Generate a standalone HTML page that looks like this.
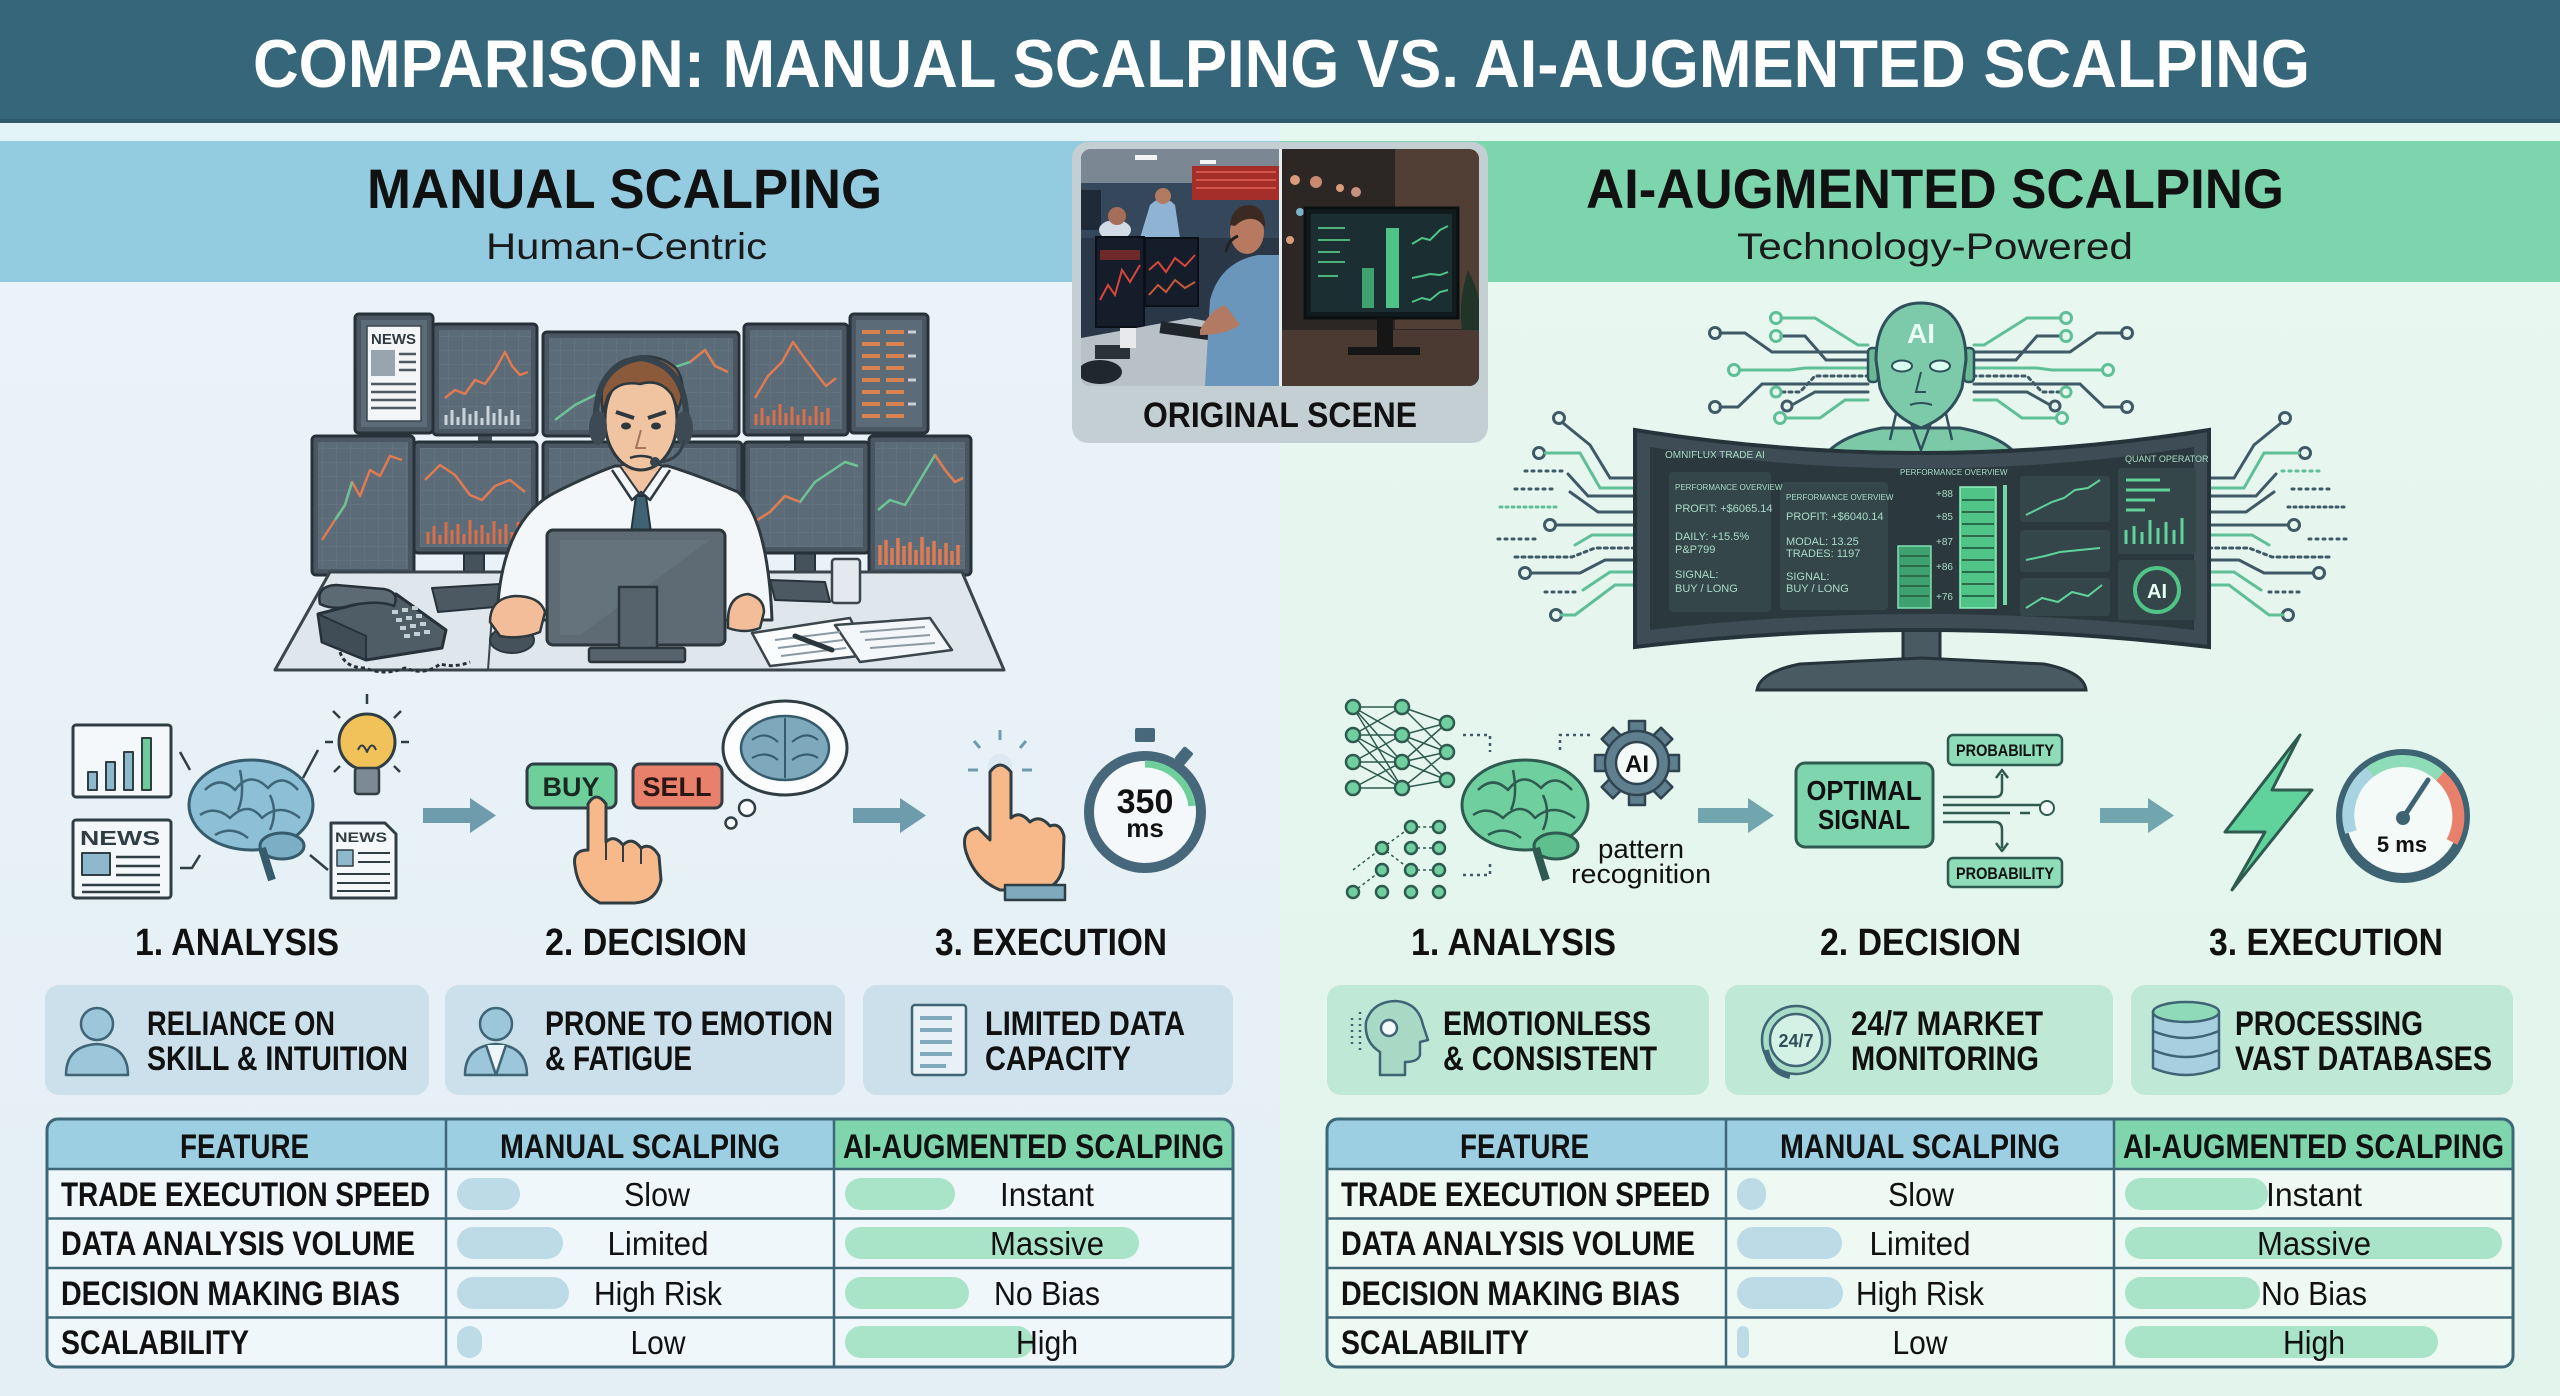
<!DOCTYPE html>
<html><head><meta charset="utf-8"><style>
html,body{margin:0;padding:0;background:#e8f2f7}
body{width:2560px;height:1396px;overflow:hidden}
svg{display:block}
</style></head><body>
<svg width="2560" height="1396" viewBox="0 0 2560 1396" xmlns="http://www.w3.org/2000/svg" font-family="'Liberation Sans', Arial, sans-serif">
<defs>
<linearGradient id="lbg" x1="0" y1="0" x2="0" y2="1"><stop offset="0" stop-color="#ebf4f9"/><stop offset="1" stop-color="#e4eff5"/></linearGradient>
<linearGradient id="rbg" x1="0" y1="0" x2="0" y2="1"><stop offset="0" stop-color="#e9f8f1"/><stop offset="1" stop-color="#e2f4ec"/></linearGradient>
<pattern id="grid" width="14" height="14" patternUnits="userSpaceOnUse"><path d="M14 0H0V14" fill="none" stroke="#71818c" stroke-width="1"/></pattern>
<clipPath id="ph"><rect x="1081" y="149" width="398" height="237" rx="10"/></clipPath>
<clipPath id="tl"><rect x="47" y="1119" width="1186" height="248" rx="11"/></clipPath>
<clipPath id="tr"><rect x="1327" y="1119" width="1186" height="248" rx="11"/></clipPath>
</defs>

<rect x="0" y="0" width="1280" height="1396" fill="url(#lbg)"/>
<rect x="1280" y="0" width="1280" height="1396" fill="url(#rbg)"/>
<rect x="0" y="0" width="2560" height="123" fill="#35667a"/>
<rect x="0" y="119" width="2560" height="4" fill="#2f5a6c"/>
<rect x="0" y="123" width="1280" height="18" fill="#e3f4f9"/>
<rect x="1280" y="123" width="1280" height="18" fill="#e4f8ef"/>
<rect x="0" y="141" width="1280" height="141" fill="#93cce1"/>
<rect x="1280" y="141" width="1280" height="141" fill="#7dd5ae"/>

<text x="253" y="87" font-size="68" font-weight="700" fill="#ffffff" textLength="2057" lengthAdjust="spacingAndGlyphs">COMPARISON: MANUAL SCALPING VS. AI-AUGMENTED SCALPING</text>
<text x="367" y="208" font-size="56" font-weight="700" fill="#111" textLength="515" lengthAdjust="spacingAndGlyphs">MANUAL SCALPING</text>
<text x="486" y="259" font-size="37" fill="#1a1a1a" textLength="281" lengthAdjust="spacingAndGlyphs">Human-Centric</text>
<text x="1586" y="208" font-size="56" font-weight="700" fill="#111" textLength="698" lengthAdjust="spacingAndGlyphs">AI-AUGMENTED SCALPING</text>
<text x="1737" y="259" font-size="37" fill="#1a1a1a" textLength="396" lengthAdjust="spacingAndGlyphs">Technology-Powered</text>

<rect x="1072" y="142" width="416" height="301" rx="16" fill="#c4cfd4"/>
<g clip-path="url(#ph)">
  <rect x="1081" y="149" width="199" height="237" fill="#2a3747"/>
  <rect x="1081" y="149" width="199" height="34" fill="#7b8893"/>
  <rect x="1135" y="155" width="22" height="5" fill="#f2f4f5"/>
  <rect x="1200" y="160" width="16" height="4" fill="#f2f4f5"/>
  <rect x="1081" y="183" width="199" height="55" fill="#34475b"/>
  <rect x="1192" y="166" width="88" height="34" fill="#a52f28"/>
  <path d="M1196 172H1276M1196 180H1276M1196 188H1276" stroke="#d6544a" stroke-width="2"/>
  <rect x="1081" y="190" width="20" height="40" fill="#1e2a38"/>
  <ellipse cx="1115" cy="230" rx="16" ry="10" fill="#d2dce6"/>
  <circle cx="1117" cy="216" r="9" fill="#a56e58"/>
  <path d="M1140 238 L1150 205 Q1163 192 1175 205 L1180 238Z" fill="#8fb3d3"/>
  <circle cx="1163" cy="196" r="8" fill="#b17b62"/>
  <rect x="1096" y="237" width="48" height="90" fill="#151d2a" stroke="#0b1018" stroke-width="2"/>
  <polyline points="1100,300 1108,285 1115,295 1122,270 1130,282 1140,265" fill="none" stroke="#d9463b" stroke-width="2"/>
  <rect x="1100" y="250" width="40" height="10" fill="#6e2a28"/>
  <rect x="1145" y="238" width="53" height="68" fill="#151d2a" stroke="#0b1018" stroke-width="2"/>
  <polyline points="1149,270 1158,262 1166,272 1175,258 1185,266 1195,255" fill="none" stroke="#d9463b" stroke-width="2"/>
  <polyline points="1149,295 1158,285 1166,292 1175,280 1185,288 1195,282" fill="none" stroke="#c85a3a" stroke-width="2"/>
  <polygon points="1081,338 1190,318 1280,335 1280,386 1081,386" fill="#b9c1c8"/>
  <rect x="1095" y="345" width="35" height="14" fill="#2a3138"/>
  <rect x="1120" y="328" width="16" height="20" fill="#e7e9ea"/>
  <ellipse cx="1100" cy="372" rx="22" ry="12" fill="#20272e"/>
  <rect x="1160" y="325" width="55" height="12" fill="#1f252b" transform="rotate(8 1187 331)"/>
  <path d="M1205 386 L1210 300 Q1220 262 1258 255 L1280 255 L1280 386Z" fill="#6a96bb"/>
  <path d="M1200 330 Q1210 310 1225 305 L1240 325 Q1225 335 1200 335Z" fill="#b27a62"/>
  <ellipse cx="1247" cy="232" rx="17" ry="22" fill="#b7795f"/>
  <path d="M1230 225 Q1232 205 1250 205 Q1266 207 1265 228 L1260 222 Q1248 214 1235 226Z" fill="#3a2a22"/>
  <path d="M1226 252 Q1228 240 1238 236" fill="none" stroke="#222" stroke-width="3"/>
  <rect x="1282" y="149" width="197" height="237" fill="#2c2725"/>
  <rect x="1395" y="149" width="84" height="180" fill="#5b463b" opacity="0.8"/>
  <circle cx="1295" cy="180" r="5" fill="#d99b7b"/><circle cx="1316" cy="182" r="6" fill="#c98a70"/>
  <circle cx="1340" cy="188" r="4" fill="#d99b7b"/><circle cx="1356" cy="192" r="5" fill="#c9927a"/>
  <circle cx="1300" cy="212" r="4" fill="#7bb3c8"/><circle cx="1290" cy="240" r="4" fill="#d99b7b"/>
  <rect x="1282" y="330" width="197" height="56" fill="#4a3a31"/>
  <rect x="1305" y="208" width="153" height="110" fill="#111b1d" stroke="#0a0f10" stroke-width="3"/>
  <rect x="1311" y="214" width="141" height="98" fill="#1b2e31"/>
  <path d="M1318 228H1345M1318 240H1350M1318 252H1340M1318 262H1345M1318 276H1338" stroke="#4fb07c" stroke-width="2"/>
  <rect x="1362" y="268" width="12" height="40" fill="#3fa270"/>
  <rect x="1386" y="228" width="13" height="80" fill="#4fc486"/>
  <polyline points="1412,244 1422,238 1430,240 1440,230 1448,226" fill="none" stroke="#4fc486" stroke-width="2"/>
  <polyline points="1412,278 1422,276 1430,274 1440,275 1448,272" fill="none" stroke="#4fc486" stroke-width="2"/>
  <polyline points="1412,302 1422,298 1430,300 1440,292 1448,290" fill="none" stroke="#4fc486" stroke-width="2"/>
  <rect x="1377" y="318" width="16" height="30" fill="#161616"/>
  <rect x="1348" y="347" width="72" height="8" fill="#161616"/>
  <path d="M1462 330 Q1458 300 1468 270 Q1476 285 1479 300 L1479 330Z" fill="#203527"/>
  <rect x="1279" y="149" width="3" height="237" fill="#e8eef0"/>
</g>
<text x="1143" y="427" font-size="35" font-weight="700" fill="#111" textLength="274" lengthAdjust="spacingAndGlyphs">ORIGINAL SCENE</text>

<g stroke-linejoin="round">
  <rect x="388" y="430" width="14" height="12" fill="#45525c"/>
  <rect x="478" y="430" width="14" height="12" fill="#45525c"/>
  <rect x="790" y="430" width="14" height="12" fill="#45525c"/>
  <rect x="882" y="430" width="14" height="12" fill="#45525c"/>
  <g>
    <rect x="355" y="314" width="78" height="119" rx="4" fill="#4a5762" stroke="#26313a" stroke-width="3"/>
    <rect x="361" y="320" width="66" height="107" fill="#5b6b77"/>
    <rect x="367" y="326" width="54" height="95" fill="#f3f5f6" stroke="#3a4650" stroke-width="1.5"/>
    <text x="371" y="344" font-size="15" font-weight="700" fill="#2f3b44">NEWS</text>
    <rect x="371" y="350" width="24" height="26" fill="#98a5ae"/>
    <path d="M399 354H416M399 362H416M399 370H416M371 384H416M371 392H416M371 400H416M371 408H416" stroke="#4f5b64" stroke-width="2.5"/>
  </g>
  <g>
    <rect x="433" y="324" width="104" height="111" rx="4" fill="#4a5762" stroke="#26313a" stroke-width="3"/>
    <rect x="439" y="330" width="92" height="99" fill="#5b6b77"/><rect x="439" y="330" width="92" height="99" fill="url(#grid)" opacity="0.6"/>
    <polyline points="445,398 455,390 465,394 475,380 485,384 495,370 505,352 512,366 520,375 528,372" fill="none" stroke="#e07a52" stroke-width="2.5"/>
    <path d="M446 425V415M452 425V410M458 425V417M464 425V408M470 425V414M476 425V411M482 425V418M488 425V406M494 425V413M500 425V409M506 425V416M512 425V410M518 425V415" stroke="#c9d3d9" stroke-width="3"/>
  </g>
  <g>
    <rect x="543" y="332" width="196" height="104" rx="4" fill="#4a5762" stroke="#26313a" stroke-width="3"/>
    <rect x="549" y="338" width="184" height="92" fill="#5b6b77"/><rect x="549" y="338" width="184" height="92" fill="url(#grid)" opacity="0.6"/>
    <polyline points="555,420 575,405 595,395 615,400 640,382 660,372 690,362 705,350 715,366 728,372" fill="none" stroke="#6cc496" stroke-width="2.5"/>
    <polyline points="690,362 705,350 715,366 728,372" fill="none" stroke="#e07a52" stroke-width="2.5"/>
  </g>
  <g>
    <rect x="744" y="324" width="104" height="111" rx="4" fill="#4a5762" stroke="#26313a" stroke-width="3"/>
    <rect x="750" y="330" width="92" height="99" fill="#5b6b77"/><rect x="750" y="330" width="92" height="99" fill="url(#grid)" opacity="0.6"/>
    <polyline points="755,398 768,376 782,362 793,342 803,356 815,372 826,386 836,378" fill="none" stroke="#e07a52" stroke-width="2.5"/>
    <path d="M756 425V414M762 425V408M768 425V416M774 425V410M780 425V404M786 425V413M792 425V407M798 425V415M804 425V409M810 425V416M816 425V406M822 425V412M828 425V408" stroke="#d86f4a" stroke-width="3"/>
  </g>
  <g>
    <rect x="850" y="314" width="78" height="119" rx="4" fill="#4a5762" stroke="#26313a" stroke-width="3"/>
    <rect x="856" y="320" width="66" height="107" fill="#5b6b77"/>
    <path d="M862 332H880M886 332H904M862 344H880M886 344H904M862 356H880M886 356H904M862 368H880M886 368H904M862 380H880M886 380H904M862 392H880M886 392H904M862 404H880M886 404H904M862 416H880M886 416H904" stroke="#d9824f" stroke-width="4"/>
    <path d="M908 332H916M908 356H916M908 380H916M908 404H916" stroke="#c5cdd2" stroke-width="3"/>
  </g>
  <g>
    <rect x="543" y="442" width="199" height="118" rx="4" fill="#4a5762" stroke="#26313a" stroke-width="3"/>
    <rect x="549" y="448" width="187" height="106" fill="#5b6b77"/><rect x="549" y="448" width="187" height="106" fill="url(#grid)" opacity="0.6"/>
  </g>
  <g>
    <rect x="352" y="573" width="22" height="27" fill="#45525c" stroke="#26313a" stroke-width="2"/>
    <rect x="332" y="597" width="64" height="9" rx="3" fill="#45525c" stroke="#26313a" stroke-width="2"/>
    <rect x="312" y="436" width="102" height="139" rx="4" fill="#4a5762" stroke="#26313a" stroke-width="3"/>
    <rect x="318" y="442" width="90" height="127" fill="#5b6b77"/><rect x="318" y="442" width="90" height="127" fill="url(#grid)" opacity="0.6"/>
    <polyline points="322,540 335,520 345,505 352,482 360,496 370,470 380,476 390,456 402,460" fill="none" stroke="#e07a52" stroke-width="2.5"/>
    <polyline points="335,520 345,505 352,482" fill="none" stroke="#6cc496" stroke-width="2.5"/>
  </g>
  <g>
    <rect x="464" y="550" width="20" height="38" fill="#45525c" stroke="#26313a" stroke-width="2"/>
    <rect x="438" y="584" width="74" height="9" rx="3" fill="#45525c" stroke="#26313a" stroke-width="2"/>
    <rect x="414" y="442" width="123" height="111" rx="4" fill="#4a5762" stroke="#26313a" stroke-width="3"/>
    <rect x="420" y="448" width="111" height="99" fill="#5b6b77"/><rect x="420" y="448" width="111" height="99" fill="url(#grid)" opacity="0.6"/>
    <polyline points="425,480 440,465 455,475 470,495 482,500 495,486 510,480 525,492" fill="none" stroke="#e07a52" stroke-width="2.5"/>
    <path d="M428 544V532M434 544V526M440 544V535M446 544V522M452 544V530M458 544V524M464 544V534M470 544V520M476 544V530M482 544V525M488 544V533M494 544V521M500 544V529M506 544V524M512 544V532M518 544V522M524 544V530" stroke="#d86f4a" stroke-width="3"/>
  </g>
  <g>
    <rect x="795" y="550" width="20" height="33" fill="#45525c" stroke="#26313a" stroke-width="2"/>
    <rect x="768" y="580" width="74" height="9" rx="3" fill="#45525c" stroke="#26313a" stroke-width="2"/>
    <rect x="744" y="442" width="125" height="111" rx="4" fill="#4a5762" stroke="#26313a" stroke-width="3"/>
    <rect x="750" y="448" width="113" height="99" fill="#5b6b77"/><rect x="750" y="448" width="113" height="99" fill="url(#grid)" opacity="0.6"/>
    <polyline points="754,522 770,512 785,496 800,502 815,482 830,472 845,462 858,466" fill="none" stroke="#6cc496" stroke-width="2.5"/>
    <polyline points="754,522 770,512 785,496 800,502" fill="none" stroke="#e07a52" stroke-width="2.5"/>
  </g>
  <g>
    <rect x="908" y="573" width="22" height="27" fill="#45525c" stroke="#26313a" stroke-width="2"/>
    <rect x="885" y="597" width="70" height="9" rx="3" fill="#45525c" stroke="#26313a" stroke-width="2"/>
    <rect x="869" y="436" width="102" height="139" rx="4" fill="#4a5762" stroke="#26313a" stroke-width="3"/>
    <rect x="875" y="442" width="90" height="127" fill="#5b6b77"/><rect x="875" y="442" width="90" height="127" fill="url(#grid)" opacity="0.6"/>
    <polyline points="878,510 890,500 905,505 920,480 935,455 945,470 955,482 963,478" fill="none" stroke="#6cc496" stroke-width="2.5"/>
    <polyline points="935,455 945,470 955,482 963,478" fill="none" stroke="#e07a52" stroke-width="2.5"/>
    <path d="M880 565V545M886 565V540M892 565V548M898 565V538M904 565V546M910 565V542M916 565V550M922 565V537M928 565V547M934 565V541M940 565V549M946 565V543M952 565V551M958 565V545" stroke="#e07a52" stroke-width="3.5"/>
  </g>
  <polygon points="330,572 962,572 1004,670 275,670" fill="#dfe7ec" stroke="#3a454c" stroke-width="3"/>
  <line x1="492" y1="615" x2="488" y2="670" stroke="#3a454c" stroke-width="2"/>
  <polygon points="432,588 500,584 506,606 438,612" fill="#4c5963" stroke="#26313a" stroke-width="2"/>
  <polygon points="770,580 825,582 830,602 775,600" fill="#4c5963" stroke="#26313a" stroke-width="2"/>
  <rect x="832" y="559" width="28" height="44" rx="3" fill="#e3e9ec" stroke="#3a454c" stroke-width="2.5"/>
  <path d="M497 620 Q500 520 556 492 Q590 475 615 466 L668 466 Q700 476 738 492 Q768 520 772 620Z" fill="#f4f7f9" stroke="#2d383f" stroke-width="3"/>
  <path d="M620 466 L641 496 L662 466" fill="#f1c4a1" stroke="#2d383f" stroke-width="2"/>
  <path d="M612 470 L632 500 L641 492 L650 500 L670 470" fill="none" stroke="#2d383f" stroke-width="2.5"/>
  <polygon points="636,496 646,496 652,540 640,545 630,540" fill="#3f6374" stroke="#25343c" stroke-width="2"/>
  <rect x="624" y="445" width="34" height="26" fill="#eab893"/>
  <ellipse cx="641" cy="420" rx="36" ry="50" fill="#f1c4a1" stroke="#2d383f" stroke-width="3"/>
  <path d="M603 412 Q596 372 625 360 Q655 350 676 368 Q688 385 678 410 L672 395 Q660 378 640 384 Q618 380 608 396Z" fill="#8a5a3a" stroke="#2d383f" stroke-width="2.5"/>
  <path d="M596 430 Q592 365 641 358 Q690 365 686 430" fill="none" stroke="#36434c" stroke-width="6"/>
  <ellipse cx="598" cy="428" rx="9" ry="17" fill="#3d4a53"/>
  <ellipse cx="684" cy="428" rx="9" ry="17" fill="#3d4a53"/>
  <path d="M684 440 Q680 462 656 462" fill="none" stroke="#36434c" stroke-width="3"/>
  <circle cx="655" cy="462" r="5" fill="#36434c"/>
  <path d="M616 412 L634 418 M648 418 L666 412" stroke="#2d383f" stroke-width="4"/>
  <ellipse cx="626" cy="426" rx="5" ry="3.5" fill="#2d383f"/><ellipse cx="656" cy="426" rx="5" ry="3.5" fill="#2d383f"/>
  <path d="M641 430 L636 448 L646 448" fill="none" stroke="#a5725a" stroke-width="2"/>
  <path d="M630 458 Q641 454 652 458" fill="none" stroke="#2d383f" stroke-width="2.5"/>
  <rect x="547" y="530" width="178" height="115" rx="6" fill="#5e6b75" stroke="#2b353c" stroke-width="3"/>
  <path d="M560 540 L710 540 L580 635 L560 635Z" fill="#6b7882" opacity="0.6"/>
  <rect x="619" y="587" width="38" height="66" fill="#56636c" stroke="#2b353c" stroke-width="2.5"/>
  <rect x="589" y="648" width="96" height="14" rx="2" fill="#56636c" stroke="#2b353c" stroke-width="2.5"/>
  <ellipse cx="512" cy="640" rx="22" ry="13" fill="#46525b" stroke="#2b353c" stroke-width="2"/>
  <path d="M490 622 Q490 598 515 596 Q540 596 545 612 L540 632 Q520 640 500 636Z" fill="#f2bd98" stroke="#2d383f" stroke-width="2.5"/>
  <path d="M728 620 Q728 596 748 594 Q764 598 764 612 L760 628 Q745 634 728 628Z" fill="#f2bd98" stroke="#2d383f" stroke-width="2.5"/>
  <!-- phone -->
  <path d="M318 614 L396 594 L446 630 L442 648 L366 660 L322 642Z" fill="#4f5d67" stroke="#26313a" stroke-width="3"/>
  <path d="M318 614 L322 642 L366 660 L366 636Z" fill="#414d56" stroke="#26313a" stroke-width="2"/>
  <path d="M320 604 Q316 586 336 585 L384 589 Q400 592 394 606 Q380 600 352 605 Q334 611 320 604Z" fill="#5c6a74" stroke="#26313a" stroke-width="2.5"/>
  <g fill="#c5d0d6">
    <rect x="392" y="610" width="6" height="4"/><rect x="402" y="608" width="6" height="4"/><rect x="412" y="606" width="6" height="4"/>
    <rect x="396" y="618" width="6" height="4"/><rect x="406" y="616" width="6" height="4"/><rect x="416" y="614" width="6" height="4"/>
    <rect x="400" y="626" width="6" height="4"/><rect x="410" y="624" width="6" height="4"/><rect x="420" y="622" width="6" height="4"/>
    <rect x="404" y="634" width="6" height="4"/><rect x="414" y="632" width="6" height="4"/><rect x="424" y="630" width="6" height="4"/>
  </g>
  <path d="M340 652 Q345 668 365 668 Q385 676 405 668 Q425 676 440 664 Q455 668 470 662" fill="none" stroke="#26313a" stroke-width="3" stroke-dasharray="4 3"/>
  <polygon points="752,633 850,618 868,655 770,666" fill="#fbfcfd" stroke="#3a454c" stroke-width="2.5"/>
  <polygon points="835,625 930,618 952,650 860,662" fill="#f4f7f9" stroke="#3a454c" stroke-width="2.5"/>
  <path d="M775 640L840 632M778 648L843 640M781 656L846 648M860 632L925 627M865 640L930 635M870 648L935 643" stroke="#8a99a3" stroke-width="2"/>
  <line x1="795" y1="636" x2="832" y2="650" stroke="#2b353c" stroke-width="5" stroke-linecap="round"/>
</g>

<g fill="none" stroke-width="3" stroke-linecap="round">
  <g>
    <path d="M1781 318H1815L1858 345H1868" stroke="#5fbf97"/>
    <circle cx="1776" cy="318" r="5.5" stroke="#5fbf97"/>
    <path d="M1720 333H1745L1772 352H1868" stroke="#3f5a66"/>
    <circle cx="1715" cy="333" r="5.5" stroke="#3f5a66"/>
    <path d="M1781 336H1805L1826 360H1868" stroke="#3f5a66"/>
    <circle cx="1776" cy="336" r="5.5" stroke="#5fbf97"/>
    <path d="M1740 370H1790L1805 368H1868" stroke="#5fbf97"/>
    <circle cx="1734" cy="370" r="5.5" stroke="#5fbf97"/>
    <path d="M1782 392H1800L1815 376H1868" stroke="#3f5a66" stroke-dasharray="3 4"/>
    <circle cx="1776" cy="392" r="5" stroke="#5fbf97"/>
    <path d="M1720 407H1738L1762 384H1868" stroke="#3f5a66"/>
    <circle cx="1715" cy="407" r="5.5" stroke="#3f5a66"/>
    <path d="M1792 405L1815 392H1868" stroke="#3f5a66"/>
    <circle cx="1787" cy="406" r="5" stroke="#3f5a66"/>
    <path d="M1786 418H1820L1845 400H1868" stroke="#5fbf97"/>
    <circle cx="1780" cy="418" r="5.5" stroke="#5fbf97"/>
  </g>
  <g transform="translate(3842,0) scale(-1,1)">
    <path d="M1781 318H1815L1858 345H1868" stroke="#5fbf97"/>
    <circle cx="1776" cy="318" r="5.5" stroke="#5fbf97"/>
    <path d="M1720 333H1745L1772 352H1868" stroke="#3f5a66"/>
    <circle cx="1715" cy="333" r="5.5" stroke="#3f5a66"/>
    <path d="M1781 336H1805L1826 360H1868" stroke="#3f5a66"/>
    <circle cx="1776" cy="336" r="5.5" stroke="#5fbf97"/>
    <path d="M1740 370H1790L1805 368H1868" stroke="#5fbf97"/>
    <circle cx="1734" cy="370" r="5.5" stroke="#5fbf97"/>
    <path d="M1782 392H1800L1815 376H1868" stroke="#3f5a66" stroke-dasharray="3 4"/>
    <circle cx="1776" cy="392" r="5" stroke="#5fbf97"/>
    <path d="M1720 407H1738L1762 384H1868" stroke="#3f5a66"/>
    <circle cx="1715" cy="407" r="5.5" stroke="#3f5a66"/>
    <path d="M1792 405L1815 392H1868" stroke="#3f5a66"/>
    <circle cx="1787" cy="406" r="5" stroke="#3f5a66"/>
    <path d="M1786 418H1820L1845 400H1868" stroke="#5fbf97"/>
    <circle cx="1780" cy="418" r="5.5" stroke="#5fbf97"/>
  </g>
  <g>
    <circle cx="1559" cy="418" r="5.5" stroke="#3f5a66"/>
    <path d="M1563 423L1590 445L1610 478H1636" stroke="#3f5a66"/>
    <circle cx="1539" cy="453" r="5.5" stroke="#3f5a66"/>
    <path d="M1545 453H1580L1600 488H1636" stroke="#5fbf97"/>
    <path d="M1525 471H1565" stroke="#3f5a66" stroke-dasharray="2 5"/>
    <path d="M1568 474L1588 496H1636" stroke="#3f5a66"/>
    <path d="M1515 489H1555" stroke="#3f5a66" stroke-dasharray="2 5"/>
    <path d="M1570 492L1598 512H1636" stroke="#3f5a66"/>
    <path d="M1500 507H1560" stroke="#5fbf97" stroke-dasharray="2 4"/>
    <circle cx="1550" cy="525" r="5.5" stroke="#3f5a66"/>
    <path d="M1556 525H1636" stroke="#3f5a66"/>
    <path d="M1498 539H1540" stroke="#3f5a66" stroke-dasharray="2 5"/>
    <path d="M1575 545L1592 535H1636" stroke="#5fbf97"/>
    <path d="M1515 557H1572L1595 548H1636" stroke="#3f5a66" stroke-dasharray="3 4"/>
    <circle cx="1525" cy="573" r="5.5" stroke="#3f5a66"/>
    <path d="M1531 573H1580L1605 560H1636" stroke="#3f5a66"/>
    <path d="M1545 592H1580" stroke="#3f5a66" stroke-dasharray="2 5"/>
    <path d="M1583 590L1610 572H1636" stroke="#5fbf97"/>
    <circle cx="1556" cy="615" r="5.5" stroke="#3f5a66"/>
    <path d="M1561 615H1575L1615 585H1636" stroke="#5fbf97"/>
  </g>
  <g transform="translate(3844,0) scale(-1,1)">
    <circle cx="1559" cy="418" r="5.5" stroke="#3f5a66"/>
    <path d="M1563 423L1590 445L1610 478H1636" stroke="#3f5a66"/>
    <circle cx="1539" cy="453" r="5.5" stroke="#3f5a66"/>
    <path d="M1545 453H1580L1600 488H1636" stroke="#5fbf97"/>
    <path d="M1525 471H1565" stroke="#5fbf97" stroke-dasharray="2 5"/>
    <path d="M1568 474L1588 496H1636" stroke="#3f5a66"/>
    <path d="M1515 489H1555" stroke="#3f5a66" stroke-dasharray="2 5"/>
    <path d="M1570 492L1598 512H1636" stroke="#3f5a66"/>
    <path d="M1500 507H1560" stroke="#3f5a66" stroke-dasharray="2 4"/>
    <circle cx="1550" cy="525" r="5.5" stroke="#3f5a66"/>
    <path d="M1556 525H1636" stroke="#3f5a66"/>
    <path d="M1498 539H1540" stroke="#3f5a66" stroke-dasharray="2 5"/>
    <path d="M1575 545L1592 535H1636" stroke="#5fbf97"/>
    <path d="M1515 557H1572L1595 548H1636" stroke="#3f5a66" stroke-dasharray="3 4"/>
    <circle cx="1525" cy="573" r="5.5" stroke="#3f5a66"/>
    <path d="M1531 573H1580L1605 560H1636" stroke="#3f5a66"/>
    <path d="M1545 592H1580" stroke="#3f5a66" stroke-dasharray="2 5"/>
    <path d="M1583 590L1610 572H1636" stroke="#5fbf97"/>
    <circle cx="1556" cy="615" r="5.5" stroke="#3f5a66"/>
    <path d="M1561 615H1575L1615 585H1636" stroke="#5fbf97"/>
  </g>
</g>
<path d="M1823 458 Q1838 436 1882 428 L1960 428 Q2004 436 2019 458Z" fill="#7cc9a8" stroke="#2f4f5a" stroke-width="3"/>
<path d="M1898 405 L1890 440 M1944 405 L1952 440 M1910 420 L1921 450 L1932 420" fill="none" stroke="#2f4f5a" stroke-width="2.5"/>
<rect x="1868" y="348" width="10" height="34" rx="4" fill="#6ab896" stroke="#2f4f5a" stroke-width="2.5"/>
<rect x="1964" y="348" width="10" height="34" rx="4" fill="#6ab896" stroke="#2f4f5a" stroke-width="2.5"/>
<path d="M1921 303 C1950 303 1966 325 1966 360 L1962 388 Q1952 416 1921 428 Q1890 416 1880 388 L1876 360 C1876 325 1892 303 1921 303Z" fill="#7ccaa9" stroke="#2f4f5a" stroke-width="3"/>
<text x="1921" y="343" font-size="28" font-weight="700" fill="#eafff6" text-anchor="middle">AI</text>
<ellipse cx="1902" cy="366" rx="10" ry="5.5" fill="#d8fff0" stroke="#2f4f5a" stroke-width="2"/>
<ellipse cx="1940" cy="366" rx="10" ry="5.5" fill="#d8fff0" stroke="#2f4f5a" stroke-width="2"/>
<path d="M1921 372 L1916 392 L1926 392 M1910 405 Q1921 401 1932 405" fill="none" stroke="#2f4f5a" stroke-width="2"/>
<rect x="1903" y="625" width="37" height="37" fill="#4a5a62" stroke="#26333a" stroke-width="3"/>
<path d="M1757 690 Q1760 672 1800 664 L1922 658 L2044 664 Q2084 672 2086 690Z" fill="#4a5a62" stroke="#26333a" stroke-width="3"/>
<path d="M1635 430 Q1922 476 2209 430 L2209 647 Q1922 613 1635 647Z" fill="#3e4d55" stroke="#26333a" stroke-width="4"/>
<path d="M1650 447 Q1922 490 2194 447 L2194 630 Q1922 598 1650 630Z" fill="#2b393f"/>
<g font-size="11" fill="#a9dcc4">
  <rect x="1669" y="472" width="102" height="140" rx="4" fill="#34464a"/>
  <rect x="1780" y="482" width="108" height="128" rx="4" fill="#34464a"/>
  <rect x="2020" y="476" width="90" height="46" rx="3" fill="#34464a"/>
  <rect x="2020" y="530" width="90" height="42" rx="3" fill="#34464a"/>
  <rect x="2020" y="578" width="90" height="38" rx="3" fill="#34464a"/>
  <rect x="2118" y="468" width="78" height="86" rx="3" fill="#34464a"/>
  <rect x="2118" y="560" width="78" height="60" rx="3" fill="#34464a"/>
  <text x="1665" y="458" font-size="10">OMNIFLUX TRADE AI</text>
  <text x="2125" y="462" font-size="9">QUANT OPERATOR</text>
  <text x="1675" y="490" font-size="8">PERFORMANCE OVERVIEW</text>
  <text x="1675" y="512" font-size="11">PROFIT: +$6065.14</text>
  <text x="1675" y="540" font-size="11">DAILY: +15.5%</text>
  <text x="1675" y="553" font-size="11">P&amp;P799</text>
  <text x="1675" y="578" font-size="11">SIGNAL:</text>
  <text x="1675" y="592" font-size="11">BUY / LONG</text>
  <text x="1786" y="500" font-size="8">PERFORMANCE OVERVIEW</text>
  <text x="1786" y="520" font-size="11">PROFIT: +$6040.14</text>
  <text x="1786" y="545" font-size="11">MODAL: 13.25</text>
  <text x="1786" y="557" font-size="11">TRADES: 1197</text>
  <text x="1786" y="580" font-size="11">SIGNAL:</text>
  <text x="1786" y="592" font-size="11">BUY / LONG</text>
  <text x="1900" y="475" font-size="8">PERFORMANCE OVERVIEW</text>
  <text x="1936" y="497" font-size="10">+88</text><text x="1936" y="520" font-size="10">+85</text><text x="1936" y="545" font-size="10">+87</text><text x="1936" y="570" font-size="10">+86</text><text x="1936" y="600" font-size="10">+76</text>
</g>
<rect x="1898" y="546" width="33" height="62" fill="#3fa070" stroke="#7fe0b0" stroke-width="1.5"/>
<rect x="1960" y="487" width="36" height="121" fill="#4fc486" stroke="#8ff0c0" stroke-width="1.5"/>
<path d="M1900 556H1929M1900 566H1929M1900 576H1929M1900 586H1929M1900 596H1929M1962 500H1994M1962 512H1994M1962 524H1994M1962 536H1994M1962 548H1994M1962 560H1994M1962 572H1994M1962 584H1994M1962 596H1994" stroke="#2b6b4a" stroke-width="2"/>
<rect x="2003" y="485" width="4" height="120" fill="#6fd6a4"/>
<polyline points="2026,515 2040,508 2052,502 2064,498 2075,490 2088,488 2100,480" fill="none" stroke="#5fd39b" stroke-width="2"/>
<polyline points="2026,560 2045,556 2060,552 2080,550 2100,548" fill="none" stroke="#5fd39b" stroke-width="2"/>
<polyline points="2026,608 2042,598 2058,602 2072,592 2088,596 2102,585" fill="none" stroke="#5fd39b" stroke-width="2"/>
<path d="M2126 480H2160M2126 490H2170M2126 500H2155M2126 510H2145M2126 544V530M2134 544V526M2142 544V532M2150 544V520M2158 544V528M2166 544V522M2174 544V530M2182 544V518" stroke="#5fd39b" stroke-width="3"/>
<circle cx="2157" cy="590" r="22" fill="none" stroke="#4fc486" stroke-width="4"/>
<text x="2157" y="598" font-size="20" font-weight="700" fill="#e8fff4" text-anchor="middle">AI</text>

<g stroke-linejoin="round">
  <rect x="73" y="725" width="98" height="72" rx="3" fill="#f4f8fa" stroke="#2f3d45" stroke-width="3"/>
  <rect x="88" y="772" width="9" height="18" fill="#8eb8cc" stroke="#2f3d45" stroke-width="2"/>
  <rect x="106" y="762" width="9" height="28" fill="#8eb8cc" stroke="#2f3d45" stroke-width="2"/>
  <rect x="124" y="752" width="9" height="38" fill="#8eb8cc" stroke="#2f3d45" stroke-width="2"/>
  <rect x="142" y="738" width="9" height="52" fill="#6ecc98" stroke="#2f3d45" stroke-width="2"/>
  <rect x="73" y="820" width="98" height="78" rx="3" fill="#f4f8fa" stroke="#2f3d45" stroke-width="3"/>
  <text x="80" y="845" font-size="20" font-weight="700" fill="#2f3d45" textLength="80" lengthAdjust="spacingAndGlyphs">NEWS</text>
  <rect x="82" y="853" width="28" height="22" fill="#8eb8cc" stroke="#2f3d45" stroke-width="2"/>
  <path d="M116 857H160M116 866H160M116 875H160M82 885H160M82 892H160" stroke="#2f3d45" stroke-width="2.5"/>
  <path d="M180 752 L190 770 M180 868 H192 L200 855 M303 778 L318 750 M310 855 L328 870" stroke="#2f3d45" stroke-width="2.5" fill="none"/>
  <ellipse cx="251" cy="805" rx="62" ry="45" fill="#8dbfd6" stroke="#355b6c" stroke-width="3"/>
  <ellipse cx="282" cy="846" rx="22" ry="13" fill="#7cafc6" stroke="#355b6c" stroke-width="3"/>
  <path d="M262 848 Q268 868 272 880" stroke="#355b6c" stroke-width="8" fill="none"/>
  <path d="M205 790 Q220 775 235 790 Q250 770 268 788 Q282 772 298 790 M200 815 Q215 805 230 818 Q248 800 262 818 Q280 802 300 818 M215 835 Q232 825 248 838 M240 770 Q245 795 238 810 M270 795 Q278 812 270 830" fill="none" stroke="#3e6678" stroke-width="2.5"/>
  <circle cx="367" cy="742" r="28" fill="#f2c25a" stroke="#2f3d45" stroke-width="3"/>
  <path d="M358 750 Q362 740 367 752 Q372 740 376 750" fill="none" stroke="#2f3d45" stroke-width="2"/>
  <rect x="355" y="768" width="24" height="26" rx="3" fill="#7b8a94" stroke="#2f3d45" stroke-width="2.5"/>
  <path d="M367 704V694M340 718L333 711M394 718L401 711M333 742H325M401 742H409M340 766L334 772M394 766L400 772" stroke="#2f3d45" stroke-width="2.5"/>
  <path d="M331 823 H385 L396 834 V898 H331Z" fill="#f4f8fa" stroke="#2f3d45" stroke-width="3"/>
  <text x="335" y="842" font-size="14" font-weight="700" fill="#2f3d45" textLength="52" lengthAdjust="spacingAndGlyphs">NEWS</text>
  <rect x="337" y="850" width="16" height="16" fill="#8eb8cc" stroke="#2f3d45" stroke-width="1.5"/>
  <path d="M358 853H390M358 862H390M337 874H390M337 883H390M337 891H390" stroke="#2f3d45" stroke-width="2"/>
</g>
<polygon points="423,808 470,808 470,798 496,815.5 470,833 470,823 423,823" fill="#6e9cad"/>
<polygon points="853,808 900,808 900,798 926,815.5 900,833 900,823 853,823" fill="#6e9cad"/>
<g stroke-linejoin="round">
  <rect x="527" y="764" width="89" height="44" rx="7" fill="#6fcf9b" stroke="#2f3d45" stroke-width="3"/>
  <text x="571" y="796" font-size="27" font-weight="700" fill="#1a2a22" text-anchor="middle">BUY</text>
  <rect x="633" y="764" width="89" height="44" rx="7" fill="#e8806c" stroke="#2f3d45" stroke-width="3"/>
  <text x="677" y="796" font-size="27" font-weight="700" fill="#2a1612" text-anchor="middle">SELL</text>
  <path d="M588 850 V804 Q596 790 606 804 V842 Q614 834 623 845 Q632 836 641 848 Q651 842 659 856 L661 880 Q656 903 632 903 L600 903 Q578 892 575 866 Q572 850 588 850Z" fill="#f7b98a" stroke="#2f3d45" stroke-width="3"/>
  <path d="M606 842 V860 M623 845 V862 M641 848 V864" stroke="#2f3d45" stroke-width="2" fill="none"/>
  <ellipse cx="785" cy="748" rx="62" ry="47" fill="#fbfdfe" stroke="#2f3d45" stroke-width="3"/>
  <ellipse cx="785" cy="748" rx="44" ry="32" fill="#7ea8bb" stroke="#355b6c" stroke-width="2.5"/>
  <path d="M785 718 V778 M752 740 Q765 730 778 742 M792 742 Q806 730 818 740 M752 758 Q766 750 778 760 M792 760 Q806 750 818 758" fill="none" stroke="#355b6c" stroke-width="2"/>
  <circle cx="747" cy="808" r="8" fill="#fbfdfe" stroke="#2f3d45" stroke-width="2.5"/>
  <circle cx="731" cy="823" r="5.5" fill="#fbfdfe" stroke="#2f3d45" stroke-width="2.5"/>
  <circle cx="1000" cy="766" r="12" fill="#dbe8ee" opacity="0.9"/>
  <path d="M1000 740V730M980 748L974 741M1020 748L1026 741M978 770H968M1022 770H1032" stroke="#6e9cad" stroke-width="3"/>
  <path d="M990 830 V772 Q1000 758 1011 772 V818 Q1020 810 1030 822 Q1040 814 1050 826 Q1060 822 1064 836 L1063 868 Q1058 888 1040 890 L1000 890 Q975 880 966 852 Q960 830 978 828 L990 840Z" fill="#f7b98a" stroke="#2f3d45" stroke-width="3"/>
  <rect x="1005" y="885" width="60" height="15" fill="#7fa9bc" stroke="#2f3d45" stroke-width="2.5"/>
  <rect x="1135" y="728" width="20" height="14" rx="2" fill="#46687a"/>
  <rect x="1178" y="748" width="12" height="16" rx="2" fill="#46687a" transform="rotate(40 1184 756)"/>
  <circle cx="1145" cy="812" r="56" fill="#f4f8fa" stroke="#46687a" stroke-width="10"/>
  <path d="M1145 764 A48 48 0 0 1 1192 806" fill="none" stroke="#6fcf9b" stroke-width="7"/>
  <text x="1145" y="813" font-size="34" font-weight="700" fill="#111" text-anchor="middle">350</text>
  <text x="1145" y="837" font-size="26" font-weight="700" fill="#111" text-anchor="middle">ms</text>
</g>

<g stroke="#2f5a4f" stroke-width="1.5" fill="none">
  <path d="M1353 707L1402 707M1353 707L1402 735M1353 707L1402 762M1353 735L1402 707M1353 735L1402 735M1353 735L1402 762M1353 735L1402 788M1353 762L1402 735M1353 762L1402 762M1353 762L1402 788M1353 788L1402 762M1353 788L1402 788M1402 707L1447 723M1402 707L1447 752M1402 735L1447 723M1402 735L1447 752M1402 735L1447 780M1402 762L1447 723M1402 762L1447 752M1402 762L1447 780M1402 788L1447 752M1402 788L1447 780M1353 707L1402 788"/>
  <path d="M1353 870L1382 848L1411 870M1382 848L1411 827L1439 827M1411 848L1439 848M1411 870L1439 870M1353 892L1382 870" stroke-dasharray="3 3"/>
  <path d="M1463 735H1490V752M1590 735H1560V752M1463 875H1490V860" stroke="#3f5a66" stroke-width="2.5" stroke-dasharray="3 4"/>
</g>
<g fill="#6fcf9f" stroke="#2f5a4f" stroke-width="2.5">
  <circle cx="1353" cy="707" r="7"/><circle cx="1353" cy="735" r="7"/><circle cx="1353" cy="762" r="7"/><circle cx="1353" cy="788" r="7"/>
  <circle cx="1402" cy="707" r="7"/><circle cx="1402" cy="735" r="7"/><circle cx="1402" cy="762" r="7"/><circle cx="1402" cy="788" r="7"/>
  <circle cx="1447" cy="723" r="7"/><circle cx="1447" cy="752" r="7"/><circle cx="1447" cy="780" r="7"/>
  <circle cx="1411" cy="827" r="6"/><circle cx="1439" cy="827" r="6"/><circle cx="1382" cy="848" r="6"/><circle cx="1411" cy="848" r="6"/><circle cx="1439" cy="848" r="6"/>
  <circle cx="1382" cy="870" r="6"/><circle cx="1411" cy="870" r="6"/><circle cx="1439" cy="870" r="6"/>
  <circle cx="1353" cy="892" r="6"/><circle cx="1382" cy="892" r="6"/><circle cx="1411" cy="892" r="6"/><circle cx="1439" cy="892" r="6"/>
</g>
<g stroke-linejoin="round">
  <ellipse cx="1525" cy="805" rx="63" ry="45" fill="#6fcf9f" stroke="#2f5a4f" stroke-width="3"/>
  <ellipse cx="1556" cy="846" rx="22" ry="13" fill="#5fbf8f" stroke="#2f5a4f" stroke-width="3"/>
  <path d="M1536 848 Q1542 868 1546 880" stroke="#2f5a4f" stroke-width="8" fill="none"/>
  <path d="M1478 790 Q1493 775 1508 790 Q1523 770 1541 788 Q1555 772 1572 790 M1473 815 Q1488 805 1503 818 Q1521 800 1535 818 Q1553 802 1575 818 M1488 835 Q1505 825 1521 838 M1513 770 Q1518 795 1511 810 M1543 795 Q1551 812 1543 830" fill="none" stroke="#2f5a4f" stroke-width="2.5"/>
  <g transform="translate(1637 763)" fill="#5f7f8f" stroke="#2f4450" stroke-width="2.5">
    <rect x="-8" y="-42" width="16" height="14"/><rect x="-8" y="28" width="16" height="14"/>
    <rect x="-42" y="-8" width="14" height="16"/><rect x="28" y="-8" width="14" height="16"/>
    <rect x="-8" y="-42" width="16" height="14" transform="rotate(45)"/><rect x="-8" y="-42" width="16" height="14" transform="rotate(135)"/>
    <rect x="-8" y="-42" width="16" height="14" transform="rotate(225)"/><rect x="-8" y="-42" width="16" height="14" transform="rotate(315)"/>
    <circle r="32"/>
    <circle r="21" fill="#f4faf7"/>
  </g>
  <text x="1637" y="772" font-size="24" font-weight="700" fill="#111" text-anchor="middle">AI</text>
  <text x="1598" y="858" font-size="27" fill="#111" textLength="86" lengthAdjust="spacingAndGlyphs">pattern</text>
  <text x="1571" y="883" font-size="27" fill="#111" textLength="140" lengthAdjust="spacingAndGlyphs">recognition</text>
</g>
<polygon points="1698,808 1748,808 1748,798 1774,815.5 1748,833 1748,823 1698,823" fill="#72a6ae"/>
<polygon points="2100,808 2148,808 2148,798 2174,815.5 2148,833 2148,823 2100,823" fill="#72a6ae"/>
<g stroke-linejoin="round">
  <rect x="1796" y="763" width="137" height="84" rx="9" fill="#7fd6ae" stroke="#2f5a4f" stroke-width="3"/>
  <text x="1864" y="800" font-size="28" font-weight="700" fill="#111" text-anchor="middle" textLength="115" lengthAdjust="spacingAndGlyphs">OPTIMAL</text>
  <text x="1864" y="829" font-size="28" font-weight="700" fill="#111" text-anchor="middle" textLength="92" lengthAdjust="spacingAndGlyphs">SIGNAL</text>
  <path d="M1943 797H1995Q2002 797 2002 790V774M1943 805H2040M1943 813H2010M2020 813H2030M1943 822H1995Q2002 822 2002 830V848" fill="none" stroke="#2f5a4f" stroke-width="2.5"/>
  <path d="M1996 778L2002 770L2008 778M1996 843L2002 851L2008 843" fill="none" stroke="#2f5a4f" stroke-width="2.5"/>
  <circle cx="2047" cy="808" r="7" fill="#f4faf7" stroke="#2f5a4f" stroke-width="2"/>
  <rect x="1948" y="735" width="114" height="30" rx="5" fill="#8fdcb8" stroke="#2f5a4f" stroke-width="2.5"/>
  <text x="2005" y="756" font-size="17" font-weight="700" fill="#111" text-anchor="middle" textLength="98" lengthAdjust="spacingAndGlyphs">PROBABILITY</text>
  <rect x="1948" y="858" width="114" height="29" rx="5" fill="#8fdcb8" stroke="#2f5a4f" stroke-width="2.5"/>
  <text x="2005" y="879" font-size="17" font-weight="700" fill="#111" text-anchor="middle" textLength="98" lengthAdjust="spacingAndGlyphs">PROBABILITY</text>
  <polygon points="2300,735 2225,832 2265,832 2232,890 2312,790 2272,790" fill="#5fd39b" stroke="#2f5a4f" stroke-width="3"/>
  <circle cx="2403" cy="816" r="62" fill="#f4faf7" stroke="#3e6474" stroke-width="10"/>
  <path d="M2351 832 A54 54 0 0 1 2370 772" fill="none" stroke="#a8d3e0" stroke-width="12"/>
  <path d="M2370 772 A54 54 0 0 1 2440 776" fill="none" stroke="#8fdcb8" stroke-width="12"/>
  <path d="M2440 776 A54 54 0 0 1 2452 842" fill="none" stroke="#e8806c" stroke-width="12"/>
  <path d="M2403 818 L2428 780" stroke="#3e6474" stroke-width="5" stroke-linecap="round"/>
  <circle cx="2403" cy="818" r="7" fill="#3e6474"/>
  <text x="2402" y="852" font-size="22" font-weight="700" fill="#111" text-anchor="middle">5 ms</text>
</g>

<g font-size="38" font-weight="700" fill="#111">
  <text x="135" y="955" textLength="204" lengthAdjust="spacingAndGlyphs">1. ANALYSIS</text>
  <text x="545" y="955" textLength="202" lengthAdjust="spacingAndGlyphs">2. DECISION</text>
  <text x="935" y="955" textLength="232" lengthAdjust="spacingAndGlyphs">3. EXECUTION</text>
  <text x="1411" y="955" textLength="205" lengthAdjust="spacingAndGlyphs">1. ANALYSIS</text>
  <text x="1820" y="955" textLength="201" lengthAdjust="spacingAndGlyphs">2. DECISION</text>
  <text x="2209" y="955" textLength="234" lengthAdjust="spacingAndGlyphs">3. EXECUTION</text>
</g>

<rect x="45" y="985" width="384" height="110" rx="14" fill="#cbe0ea"/>
<rect x="445" y="985" width="400" height="110" rx="14" fill="#cbe0ea"/>
<rect x="863" y="985" width="370" height="110" rx="14" fill="#cbe0ea"/>
<rect x="1327" y="985" width="382" height="110" rx="14" fill="#bfe8d6"/>
<rect x="1725" y="985" width="388" height="110" rx="14" fill="#bfe8d6"/>
<rect x="2131" y="985" width="382" height="110" rx="14" fill="#bfe8d6"/>
<g stroke="#3f6475" stroke-width="2.5" stroke-linejoin="round">
  <circle cx="97" cy="1024" r="16" fill="#9cc6da"/>
  <path d="M66 1075 Q66 1046 97 1044 Q128 1046 128 1075Z" fill="#9cc6da"/>
  <circle cx="496" cy="1024" r="16" fill="#9cc6da"/>
  <path d="M465 1075 Q465 1046 496 1044 Q527 1046 527 1075Z" fill="#9cc6da"/>
  <path d="M486 1045 L496 1075 L506 1045" fill="#eef5f8"/>
  <rect x="912" y="1005" width="54" height="70" rx="3" fill="#e8f1f5"/>
  <path d="M920 1018H952M920 1030H952M920 1042H952M920 1054H952M920 1066H946" stroke="#7fa9bc" stroke-width="4"/>
  <path d="M1380 1075 V1052 Q1364 1042 1366 1022 Q1372 1002 1395 1001 Q1418 1002 1423 1025 L1428 1040 L1420 1042 V1055 Q1418 1062 1405 1062 V1075Z" fill="#a7d9c4"/>
  <circle cx="1389" cy="1028" r="8" fill="#f4faf7"/>
  <path d="M1360 1012 V1050 M1352 1018 V1044" stroke-dasharray="2 4"/>
  <circle cx="1796" cy="1040" r="34" fill="#a9dcc6"/>
  <circle cx="1796" cy="1040" r="26" fill="#d4f1e5"/>
  <path d="M1766 1050 Q1770 1072 1790 1076" fill="none" stroke-width="6"/>
  <path d="M2153 1012 V1068 Q2186 1082 2219 1068 V1012Z" fill="#a8cfe0"/>
  <path d="M2153 1031 Q2186 1045 2219 1031 M2153 1050 Q2186 1064 2219 1050" fill="none"/>
  <ellipse cx="2186" cy="1012" rx="33" ry="10" fill="#8fdab8"/>
</g>
<text x="1796" y="1047" font-size="18" font-weight="700" fill="#2f4f5a" text-anchor="middle">24/7</text>
<g font-size="34" font-weight="700" fill="#111">
  <text x="147" y="1035" textLength="188" lengthAdjust="spacingAndGlyphs">RELIANCE ON</text>
  <text x="147" y="1070" textLength="261" lengthAdjust="spacingAndGlyphs">SKILL &amp; INTUITION</text>
  <text x="545" y="1035" textLength="288" lengthAdjust="spacingAndGlyphs">PRONE TO EMOTION</text>
  <text x="545" y="1070" textLength="147" lengthAdjust="spacingAndGlyphs">&amp; FATIGUE</text>
  <text x="985" y="1035" textLength="200" lengthAdjust="spacingAndGlyphs">LIMITED DATA</text>
  <text x="985" y="1070" textLength="146" lengthAdjust="spacingAndGlyphs">CAPACITY</text>
  <text x="1443" y="1035" textLength="208" lengthAdjust="spacingAndGlyphs">EMOTIONLESS</text>
  <text x="1443" y="1070" textLength="214" lengthAdjust="spacingAndGlyphs">&amp; CONSISTENT</text>
  <text x="1851" y="1035" textLength="192" lengthAdjust="spacingAndGlyphs">24/7 MARKET</text>
  <text x="1851" y="1070" textLength="188" lengthAdjust="spacingAndGlyphs">MONITORING</text>
  <text x="2235" y="1035" textLength="188" lengthAdjust="spacingAndGlyphs">PROCESSING</text>
  <text x="2235" y="1070" textLength="257" lengthAdjust="spacingAndGlyphs">VAST DATABASES</text>
</g>

<g clip-path="url(#tl)">
  <rect x="47" y="1119" width="1186" height="248" fill="#eff7fa"/>
  <rect x="47" y="1119" width="787" height="50" fill="#9dcfe3"/>
  <rect x="834" y="1119" width="399" height="50" fill="#7fd6ad"/>
</g>
<g>
  <rect x="457" y="1178" width="63" height="32" rx="16" fill="#bcdbe7"/>
  <rect x="457" y="1227" width="106" height="32" rx="16" fill="#bcdbe7"/>
  <rect x="457" y="1277" width="112" height="32" rx="16" fill="#bcdbe7"/>
  <rect x="457" y="1326" width="25" height="32" rx="12.5" fill="#bcdbe7"/>
  <rect x="845" y="1178" width="110" height="32" rx="16" fill="#a9e4c9"/>
  <rect x="845" y="1227" width="294" height="32" rx="16" fill="#a9e4c9"/>
  <rect x="845" y="1277" width="124" height="32" rx="16" fill="#a9e4c9"/>
  <rect x="845" y="1326" width="188" height="32" rx="16" fill="#a9e4c9"/>
</g>
<g stroke="#3e6878" stroke-width="2.5" fill="none">
  <path d="M47 1169H1233M47 1218.5H1233M47 1268H1233M47 1317.5H1233M446 1119V1367M834 1119V1367"/>
  <rect x="47" y="1119" width="1186" height="248" rx="11" stroke-width="3"/>
</g>
<g font-size="34" font-weight="700" fill="#111">
  <text x="180" y="1158" textLength="129" lengthAdjust="spacingAndGlyphs">FEATURE</text>
  <text x="500" y="1158" textLength="280" lengthAdjust="spacingAndGlyphs">MANUAL SCALPING</text>
  <text x="843" y="1158" textLength="381" lengthAdjust="spacingAndGlyphs">AI-AUGMENTED SCALPING</text>
  <text x="61" y="1206" textLength="369" lengthAdjust="spacingAndGlyphs">TRADE EXECUTION SPEED</text>
  <text x="61" y="1255" textLength="354" lengthAdjust="spacingAndGlyphs">DATA ANALYSIS VOLUME</text>
  <text x="61" y="1305" textLength="339" lengthAdjust="spacingAndGlyphs">DECISION MAKING BIAS</text>
  <text x="61" y="1354" textLength="188" lengthAdjust="spacingAndGlyphs">SCALABILITY</text>
</g>
<g font-size="33" fill="#111" text-anchor="middle">
  <text x="657" y="1206" textLength="66" lengthAdjust="spacingAndGlyphs">Slow</text>
  <text x="658" y="1255" textLength="101" lengthAdjust="spacingAndGlyphs">Limited</text>
  <text x="658" y="1305" textLength="128" lengthAdjust="spacingAndGlyphs">High Risk</text>
  <text x="658" y="1354" textLength="55" lengthAdjust="spacingAndGlyphs">Low</text>
  <text x="1047" y="1206" textLength="94" lengthAdjust="spacingAndGlyphs">Instant</text>
  <text x="1047" y="1255" textLength="114" lengthAdjust="spacingAndGlyphs">Massive</text>
  <text x="1047" y="1305" textLength="106" lengthAdjust="spacingAndGlyphs">No Bias</text>
  <text x="1047" y="1354" textLength="62" lengthAdjust="spacingAndGlyphs">High</text>
</g>

<g clip-path="url(#tr)">
  <rect x="1327" y="1119" width="1186" height="248" fill="#eef9f4"/>
  <rect x="1327" y="1119" width="787" height="50" fill="#9dcfe3"/>
  <rect x="2114" y="1119" width="399" height="50" fill="#7fd6ad"/>
</g>
<g>
  <rect x="1737" y="1178" width="29" height="32" rx="14.5" fill="#bcdbe7"/>
  <rect x="1737" y="1227" width="105" height="32" rx="16" fill="#bcdbe7"/>
  <rect x="1737" y="1277" width="106" height="32" rx="16" fill="#bcdbe7"/>
  <rect x="1737" y="1326" width="12" height="32" rx="6" fill="#bcdbe7"/>
  <rect x="2125" y="1178" width="143" height="32" rx="16" fill="#a9e4c9"/>
  <rect x="2125" y="1227" width="377" height="32" rx="16" fill="#a9e4c9"/>
  <rect x="2125" y="1277" width="135" height="32" rx="16" fill="#a9e4c9"/>
  <rect x="2125" y="1326" width="313" height="32" rx="16" fill="#a9e4c9"/>
</g>
<g stroke="#3e6878" stroke-width="2.5" fill="none">
  <path d="M1327 1169H2513M1327 1218.5H2513M1327 1268H2513M1327 1317.5H2513M1726 1119V1367M2114 1119V1367"/>
  <rect x="1327" y="1119" width="1186" height="248" rx="11" stroke-width="3"/>
</g>
<g font-size="34" font-weight="700" fill="#111">
  <text x="1460" y="1158" textLength="129" lengthAdjust="spacingAndGlyphs">FEATURE</text>
  <text x="1780" y="1158" textLength="280" lengthAdjust="spacingAndGlyphs">MANUAL SCALPING</text>
  <text x="2123" y="1158" textLength="381" lengthAdjust="spacingAndGlyphs">AI-AUGMENTED SCALPING</text>
  <text x="1341" y="1206" textLength="369" lengthAdjust="spacingAndGlyphs">TRADE EXECUTION SPEED</text>
  <text x="1341" y="1255" textLength="354" lengthAdjust="spacingAndGlyphs">DATA ANALYSIS VOLUME</text>
  <text x="1341" y="1305" textLength="339" lengthAdjust="spacingAndGlyphs">DECISION MAKING BIAS</text>
  <text x="1341" y="1354" textLength="188" lengthAdjust="spacingAndGlyphs">SCALABILITY</text>
</g>
<g font-size="33" fill="#111" text-anchor="middle">
  <text x="1921" y="1206" textLength="66" lengthAdjust="spacingAndGlyphs">Slow</text>
  <text x="1920" y="1255" textLength="101" lengthAdjust="spacingAndGlyphs">Limited</text>
  <text x="1920" y="1305" textLength="128" lengthAdjust="spacingAndGlyphs">High Risk</text>
  <text x="1920" y="1354" textLength="55" lengthAdjust="spacingAndGlyphs">Low</text>
  <text x="2314" y="1206" textLength="96" lengthAdjust="spacingAndGlyphs">Instant</text>
  <text x="2314" y="1255" textLength="114" lengthAdjust="spacingAndGlyphs">Massive</text>
  <text x="2314" y="1305" textLength="106" lengthAdjust="spacingAndGlyphs">No Bias</text>
  <text x="2314" y="1354" textLength="62" lengthAdjust="spacingAndGlyphs">High</text>
</g>
</svg>
</body></html>
